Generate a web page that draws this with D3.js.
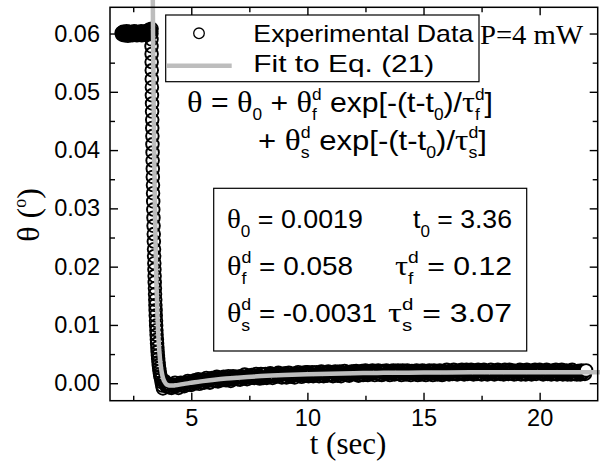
<!DOCTYPE html>
<html>
<head>
<meta charset="utf-8">
<script src="https://cdn.jsdelivr.net/npm/d3@7"></script>
<style>
  body { margin: 0; background: #fff; }
  text { white-space: pre; }
</style>
</head>
<body>
<div id="chart"></div>
<script>

// ---- Data ----

// Axis ticks
const xMajor = [5, 10, 15, 20];
const xMinor = [2.5, 7.5, 12.5, 17.5];
const yMajor = [0, 0.01, 0.02, 0.03, 0.04, 0.05, 0.06];
const yMinor = [0.005, 0.015, 0.025, 0.035, 0.045, 0.055];

// Plateau before the switch-off
const flatT = [2, 2.03, 2.06, 2.09, 2.12, 2.15, 2.18, 2.21, 2.24, 2.27, 2.3, 2.33, 2.36, 2.39, 2.42,
  2.45, 2.48, 2.51, 2.54, 2.57, 2.6, 2.63, 2.66, 2.69, 2.72, 2.75, 2.78, 2.81, 2.84, 2.87, 2.9,
  2.93, 2.96, 2.99, 3.02, 3.05, 3.08, 3.11, 3.14, 3.17, 3.2, 3.23, 3.26, 3.29];
const flatTheta = [0.0601, 0.0598, 0.0603, 0.06, 0.0597, 0.0602, 0.0599, 0.0604, 0.06, 0.0596, 0.0601,
  0.0603, 0.0598, 0.06, 0.0602, 0.0597, 0.0601, 0.0599, 0.0604, 0.0598, 0.06, 0.0603, 0.0597, 0.0601,
  0.0599, 0.0602, 0.0598, 0.06, 0.0604, 0.0597, 0.0601, 0.0603, 0.0599, 0.06, 0.0598, 0.0602, 0.0604,
  0.06, 0.0605, 0.0603, 0.0607, 0.0606, 0.0604, 0.0608];

// Fast decay
const dropT = [3.284, 3.287, 3.288, 3.292, 3.293, 3.298, 3.299, 3.304, 3.305, 3.311, 3.312, 3.318,
  3.319, 3.325, 3.327, 3.333, 3.335, 3.342, 3.344, 3.351, 3.354, 3.361, 3.364, 3.372, 3.376, 3.384,
  3.388, 3.396, 3.4, 3.408, 3.413, 3.421, 3.426, 3.435, 3.44, 3.449, 3.455, 3.464, 3.47, 3.481, 3.487,
  3.498, 3.506, 3.519, 3.527, 3.54, 3.55, 3.563, 3.574, 3.59, 3.601, 3.618, 3.633, 3.655, 3.671, 3.695,
  3.72, 3.75, 3.78, 3.81];
const dropTheta = [0.06, 0.059, 0.0578, 0.0565, 0.0551, 0.0537, 0.0522, 0.0508, 0.0494, 0.048, 0.0466,
  0.0452, 0.0438, 0.0424, 0.041, 0.0396, 0.0382, 0.0368, 0.0354, 0.034, 0.0326, 0.0312, 0.0298, 0.0284,
  0.027, 0.0256, 0.0243, 0.023, 0.0218, 0.0206, 0.0195, 0.0184, 0.0173, 0.0163, 0.0153, 0.0143, 0.0134,
  0.0125, 0.0116, 0.0107, 0.0099, 0.0091, 0.0083, 0.0075, 0.0068, 0.0061, 0.0054, 0.0048, 0.0042,
  0.0036, 0.0031, 0.0026, 0.0021, 0.0016, 0.0012, 0.0008, 0.0002, -0.0004, -0.0009, 0.0003];

// Slow recovery (one row per second)
const tailT = [3.85, 3.9, 3.95,
  4, 4.05, 4.1, 4.15, 4.2, 4.25, 4.3, 4.35, 4.4, 4.45, 4.5, 4.55, 4.6, 4.65, 4.7, 4.75, 4.8, 4.85, 4.9, 4.95,
  5, 5.05, 5.1, 5.15, 5.2, 5.25, 5.3, 5.35, 5.4, 5.45, 5.5, 5.55, 5.6, 5.65, 5.7, 5.75, 5.8, 5.85, 5.9, 5.95,
  6, 6.05, 6.1, 6.15, 6.2, 6.25, 6.3, 6.35, 6.4, 6.45, 6.5, 6.55, 6.6, 6.65, 6.7, 6.75, 6.8, 6.85, 6.9, 6.95,
  7, 7.05, 7.1, 7.15, 7.2, 7.25, 7.3, 7.35, 7.4, 7.45, 7.5, 7.55, 7.6, 7.65, 7.7, 7.75, 7.8, 7.85, 7.9, 7.95,
  8, 8.05, 8.1, 8.15, 8.2, 8.25, 8.3, 8.35, 8.4, 8.45, 8.5, 8.55, 8.6, 8.65, 8.7, 8.75, 8.8, 8.85, 8.9, 8.95,
  9, 9.05, 9.1, 9.15, 9.2, 9.25, 9.3, 9.35, 9.4, 9.45, 9.5, 9.55, 9.6, 9.65, 9.7, 9.75, 9.8, 9.85, 9.9, 9.95,
  10, 10.05, 10.1, 10.15, 10.2, 10.25, 10.3, 10.35, 10.4, 10.45, 10.5, 10.55, 10.6, 10.65, 10.7, 10.75, 10.8, 10.85, 10.9, 10.95,
  11, 11.05, 11.1, 11.15, 11.2, 11.25, 11.3, 11.35, 11.4, 11.45, 11.5, 11.55, 11.6, 11.65, 11.7, 11.75, 11.8, 11.85, 11.9, 11.95,
  12, 12.05, 12.1, 12.15, 12.2, 12.25, 12.3, 12.35, 12.4, 12.45, 12.5, 12.55, 12.6, 12.65, 12.7, 12.75, 12.8, 12.85, 12.9, 12.95,
  13, 13.05, 13.1, 13.15, 13.2, 13.25, 13.3, 13.35, 13.4, 13.45, 13.5, 13.55, 13.6, 13.65, 13.7, 13.75, 13.8, 13.85, 13.9, 13.95,
  14, 14.05, 14.1, 14.15, 14.2, 14.25, 14.3, 14.35, 14.4, 14.45, 14.5, 14.55, 14.6, 14.65, 14.7, 14.75, 14.8, 14.85, 14.9, 14.95,
  15, 15.05, 15.1, 15.15, 15.2, 15.25, 15.3, 15.35, 15.4, 15.45, 15.5, 15.55, 15.6, 15.65, 15.7, 15.75, 15.8, 15.85, 15.9, 15.95,
  16, 16.05, 16.1, 16.15, 16.2, 16.25, 16.3, 16.35, 16.4, 16.45, 16.5, 16.55, 16.6, 16.65, 16.7, 16.75, 16.8, 16.85, 16.9, 16.95,
  17, 17.05, 17.1, 17.15, 17.2, 17.25, 17.3, 17.35, 17.4, 17.45, 17.5, 17.55, 17.6, 17.65, 17.7, 17.75, 17.8, 17.85, 17.9, 17.95,
  18, 18.05, 18.1, 18.15, 18.2, 18.25, 18.3, 18.35, 18.4, 18.45, 18.5, 18.55, 18.6, 18.65, 18.7, 18.75, 18.8, 18.85, 18.9, 18.95,
  19, 19.05, 19.1, 19.15, 19.2, 19.25, 19.3, 19.35, 19.4, 19.45, 19.5, 19.55, 19.6, 19.65, 19.7, 19.75, 19.8, 19.85, 19.9, 19.95,
  20, 20.05, 20.1, 20.15, 20.2, 20.25, 20.3, 20.35, 20.4, 20.45, 20.5, 20.55, 20.6, 20.65, 20.7, 20.75, 20.8, 20.85, 20.9, 20.95,
  21, 21.05, 21.1, 21.15, 21.2, 21.25, 21.3, 21.35, 21.4, 21.45, 21.5, 21.55, 21.6, 21.65, 21.7, 21.75, 21.8, 21.85, 21.9, 21.95,
  22];
const tailTheta = [0.0004, -0.0002, -0.0006,
  -0.0001, -0.0007, -0.0003, -0.0008, -0.0002, -0.0005, 0.0001, -0.0005, -0.0003, -0.0008, -0.0001, 0.0001, -0.0004, -0.0001, -0.0005, 0.0001, -0.0002, 0.0004, -0.0002, 0.0002,
  -0.0003, 0.0003, 0.0001, 0.0005, 0, 0.0004, 0.0007, -0.0001, 0.0005, 0.0002, 0.0006, 0.0001, 0.0005, 0.0009, 0.0004, 0.0007, 0.0001, 0.0007, 0.0009, 0.0004,
  0.0009, 0.0004, 0.0011, 0.0003, 0.0008, 0.0009, 0.0005, 0.0008, 0.0011, 0.0007, 0.0005, 0.001, 0.0012, 0.0007, 0.0004, 0.001, 0.0012, 0.0007, 0.0009, 0.0011,
  0.0007, 0.0011, 0.0006, 0.0012, 0.0011, 0.0008, 0.0015, 0.001, 0.0007, 0.0013, 0.0011, 0.0009, 0.0014, 0.001, 0.0009, 0.0013, 0.0016, 0.001, 0.0013, 0.0008,
  0.0016, 0.001, 0.0009, 0.0015, 0.0016, 0.0009, 0.0011, 0.0014, 0.0017, 0.0012, 0.0009, 0.0015, 0.0013, 0.0011, 0.0016, 0.0018, 0.0013, 0.0015, 0.001, 0.0016,
  0.0012, 0.0017, 0.001, 0.0015, 0.0018, 0.0013, 0.0011, 0.0016, 0.0014, 0.001, 0.0017, 0.0014, 0.0019, 0.0013, 0.0016, 0.0011, 0.0018, 0.0016, 0.0013, 0.0019,
  0.0019, 0.0012, 0.0016, 0.0014, 0.0019, 0.0012, 0.0018, 0.0014, 0.0019, 0.0016, 0.0012, 0.0017, 0.002, 0.0014, 0.0012, 0.0018, 0.0017, 0.0013, 0.002, 0.0015,
  0.0014, 0.0019, 0.0012, 0.0018, 0.002, 0.0015, 0.0013, 0.0017, 0.002, 0.0012, 0.0018, 0.0015, 0.0021, 0.0016, 0.0014, 0.0019, 0.0013, 0.0019, 0.002, 0.0016,
  0.002, 0.0015, 0.0021, 0.0018, 0.0013, 0.0019, 0.0016, 0.0021, 0.0014, 0.0018, 0.0022, 0.0016, 0.0014, 0.002, 0.0018, 0.0016, 0.0022, 0.0019, 0.0014, 0.002,
  0.0017, 0.0022, 0.0015, 0.002, 0.0014, 0.0021, 0.0019, 0.0016, 0.0022, 0.0016, 0.0019, 0.0014, 0.0021, 0.0017, 0.0022, 0.0015, 0.002, 0.0017, 0.0022, 0.0016,
  0.002, 0.0014, 0.0022, 0.0017, 0.002, 0.0015, 0.0022, 0.0016, 0.0019, 0.0014, 0.0021, 0.0017, 0.0019, 0.0016, 0.0022, 0.0014, 0.002, 0.0018, 0.0015, 0.0022,
  0.0016, 0.0021, 0.0014, 0.0019, 0.0017, 0.0022, 0.0016, 0.002, 0.0014, 0.0022, 0.0017, 0.002, 0.0015, 0.0019, 0.0022, 0.0016, 0.0014, 0.0021, 0.0019, 0.0016,
  0.0023, 0.0018, 0.0015, 0.0021, 0.002, 0.0016, 0.0023, 0.0017, 0.002, 0.0015, 0.0022, 0.0019, 0.0017, 0.0023, 0.0018, 0.0015, 0.0021, 0.0023, 0.0016, 0.002,
  0.0017, 0.0023, 0.0018, 0.0015, 0.0022, 0.002, 0.0016, 0.0023, 0.0017, 0.0021, 0.0015, 0.002, 0.0023, 0.0018, 0.0021, 0.0015, 0.002, 0.0017, 0.0023, 0.0018,
  0.002, 0.0015, 0.0022, 0.0017, 0.0023, 0.0018, 0.0016, 0.0021, 0.0019, 0.0015, 0.0023, 0.0018, 0.0021, 0.0016, 0.0023, 0.0017, 0.002, 0.0022, 0.0015, 0.0021,
  0.0016, 0.0021, 0.0018, 0.0023, 0.0015, 0.002, 0.0022, 0.0017, 0.0015, 0.0023, 0.002, 0.0017, 0.0021, 0.0015, 0.0022, 0.0018, 0.0023, 0.0016, 0.0019, 0.0021,
  0.0023, 0.0017, 0.002, 0.0015, 0.0021, 0.0018, 0.0023, 0.0016, 0.0021, 0.0018, 0.0015, 0.0022, 0.002, 0.0017, 0.0023, 0.0015, 0.0019, 0.0021, 0.0017, 0.0023,
  0.0015, 0.002, 0.0017, 0.0022, 0.0015, 0.0018, 0.0021, 0.0015, 0.0023, 0.0017, 0.0016, 0.002, 0.0015, 0.0021, 0.0018, 0.0015, 0.0022, 0.0017, 0.0019, 0.0016,
  0.0022];

// Fitted curve, Eq. (21)
const fitT = [3.33, 3.36, 3.38, 3.4, 3.42, 3.45, 3.48, 3.5, 3.55, 3.6, 3.65, 3.7, 3.75, 3.8, 3.85, 3.9,
  4, 4.1, 4.2, 4.3, 4.5, 4.75, 5, 5.5, 6, 6.5, 7, 8, 9, 10, 11, 12, 13, 14, 15, 16, 18, 20, 22, 22.6];
const fitTheta = [0.0732, 0.0568, 0.0479, 0.0404, 0.034, 0.0263, 0.0203, 0.017, 0.0109, 0.0069, 0.00425,
  0.00254, 0.00142, 0.00069, 0.00024, -0.00006, -0.00034, -0.00041, -0.00041, -0.00036, -0.00024,
  -0.00007, 0.00008, 0.00036, 0.00059, 0.00079, 0.00095, 0.00122, 0.00141, 0.00154, 0.00164, 0.00171,
  0.00177, 0.0018, 0.00183, 0.00185, 0.00187, 0.00189, 0.0019, 0.0019];

// ---- Drawing ----

const SANS  = "'Liberation Sans', Arial, sans-serif";
const SERIF = "'Liberation Serif', 'Times New Roman', serif";

const width = 600, height = 461;
const frame = {left: 110, right: 597.7, top: 7.3, bottom: 400.7};

const svg = d3.select("#chart")
    .append("svg")
        .attr("width", width)
        .attr("height", height)
        .style("display", "block");

const x = d3.scaleLinear().domain([1.5, 22.5]).range([frame.left, frame.right]);
const y = d3.scaleLinear().domain([-0.003, 0.0645]).range([frame.bottom, frame.top]);

// Data points (open circles). The real record is far denser than what is typed here,
// so outlines are drawn unfilled to build up the same black band; the last one is filled.
const points = d3.zip(flatT, flatTheta)
    .concat(d3.zip(dropT, dropTheta), d3.zip(tailT, tailTheta));

svg.append("g")
    .selectAll("circle")
    .data(points)
    .join("circle")
        .attr("cx", d => x(d[0]))
        .attr("cy", d => y(d[1]))
        .attr("r", 6.3)
        .attr("fill", (d, i) => i === points.length - 1 ? "#fff" : "none")
        .attr("stroke", "#000")
        .attr("stroke-width", 1.9);

// Fit line
const fitLine = d3.line()
    .x(d => x(d[0]))
    .y(d => y(d[1]))
    .curve(d3.curveMonotoneX);

svg.append("path")
    .attr("d", fitLine(d3.zip(fitT, fitTheta)))
    .attr("fill", "none")
    .attr("stroke", "#bdbdbd")
    .attr("stroke-width", 4.5);

// Axes, ticks pointing inward on all four sides
function addAxis(axis, tx, ty) {
    let g = svg.append("g")
        .attr("transform", "translate(" + tx + "," + ty + ")")
        .call(axis);
    g.select(".domain").remove();
    g.selectAll("line").attr("stroke", "#000").attr("stroke-width", 1.4);
    g.attr("font-family", SANS).attr("font-size", 23.5);
    g.selectAll("text").attr("fill", "#000");
    return g;
}

addAxis(d3.axisBottom(x).tickValues(xMajor).tickSize(-8).tickPadding(9).tickFormat(d3.format("d")), 0, frame.bottom);
addAxis(d3.axisBottom(x).tickValues(xMinor).tickSize(-5).tickFormat(""), 0, frame.bottom);
addAxis(d3.axisTop(x).tickValues(xMajor).tickSize(-8).tickFormat(""), 0, frame.top);
addAxis(d3.axisTop(x).tickValues(xMinor).tickSize(-5).tickFormat(""), 0, frame.top);
addAxis(d3.axisLeft(y).tickValues(yMajor).tickSize(-8).tickPadding(10).tickFormat(d3.format(".2f")), frame.left, 0);
addAxis(d3.axisLeft(y).tickValues(yMinor).tickSize(-5).tickFormat(""), frame.left, 0);
addAxis(d3.axisRight(y).tickValues(yMajor).tickSize(-8).tickFormat(""), frame.right, 0);
addAxis(d3.axisRight(y).tickValues(yMinor).tickSize(-5).tickFormat(""), frame.right, 0);

// Frame
svg.append("rect")
    .attr("x", frame.left)
    .attr("y", frame.top)
    .attr("width", frame.right - frame.left)
    .attr("height", frame.bottom - frame.top)
    .attr("fill", "none")
    .attr("stroke", "#000")
    .attr("stroke-width", 1.5);

// Axis titles
svg.append("text")
    .attr("x", 348).attr("y", 454)
    .attr("text-anchor", "middle")
    .attr("font-family", SERIF).attr("font-size", 31)
    .text("t (sec)");

let yTitle = svg.append("text")
    .attr("transform", "translate(39,215) rotate(-90)")
    .attr("text-anchor", "middle")
    .attr("font-family", SERIF).attr("font-size", 32);
yTitle.append("tspan").text("\u03b8 (");
yTitle.append("tspan").attr("font-size", 18).attr("dy", -13).text("o");
yTitle.append("tspan").attr("dy", 13).text(")");

// Legend
svg.append("rect")
    .attr("x", 165.7).attr("y", 15)
    .attr("width", 313.3).attr("height", 66.7)
    .attr("fill", "#fff").attr("stroke", "#000").attr("stroke-width", 1.2);
svg.append("circle")
    .attr("cx", 199).attr("cy", 33.3).attr("r", 5.3)
    .attr("fill", "#fff").attr("stroke", "#000").attr("stroke-width", 1.3);
svg.append("line")
    .attr("x1", 166.7).attr("x2", 231.7).attr("y1", 65.7).attr("y2", 65.7)
    .attr("stroke", "#bdbdbd").attr("stroke-width", 4.5);
svg.append("text")
    .attr("x", 253.3).attr("y", 41.7)
    .attr("font-family", SANS).attr("font-size", 24)
    .attr("textLength", 220).attr("lengthAdjust", "spacingAndGlyphs")
    .text("Experimental Data");
svg.append("text")
    .attr("x", 253.3).attr("y", 71.5)
    .attr("font-family", SANS).attr("font-size", 24)
    .attr("textLength", 181).attr("lengthAdjust", "spacingAndGlyphs")
    .text("Fit to Eq. (21)");

svg.append("text")
    .attr("x", 480).attr("y", 44)
    .attr("font-family", SERIF).attr("font-size", 28)
    .attr("textLength", 103).attr("lengthAdjust", "spacingAndGlyphs")
    .text("P=4 mW");

// Rich text: plain pieces, greek pieces and stacked sup/sub pieces,
// stretched horizontally to a target width.
function rich(x0, y0, parts, o) {
    let g = svg.append("g");
    let cx = 0;
    parts.forEach(function(p) {
        if (p.sup !== undefined || p.sub !== undefined) {
            let w = 0;
            if (p.sup) {
                let t = g.append("text").attr("x", cx).attr("y", -o.up)
                    .attr("font-family", SANS).attr("font-size", o.small).text(p.sup);
                w = Math.max(w, t.node().getComputedTextLength());
            }
            if (p.sub) {
                let t = g.append("text").attr("x", cx).attr("y", o.down)
                    .attr("font-family", SANS).attr("font-size", o.small).text(p.sub);
                w = Math.max(w, t.node().getComputedTextLength());
            }
            cx += w;
        } else {
            let greek = p.g !== undefined;
            let t = g.append("text").attr("x", cx).attr("y", 0)
                .attr("font-family", greek ? SERIF : SANS)
                .attr("font-size", greek ? o.greek : o.size)
                .text(greek ? p.g : p.t);
            cx += t.node().getComputedTextLength();
        }
    });
    let sx = o.width ? o.width / cx : 1;
    let left = o.anchor === "end" ? x0 - cx * sx : x0;
    g.attr("transform", "translate(" + left + "," + y0 + ") scale(" + sx + ",1)");
}

const TH = "\u03b8", TAU = "\u03c4";
const eqStyle = {size: 28, greek: 30, small: 16, up: 12, down: 8};

// Equation
rich(187, 112, [{g: TH}, {t: " = "}, {g: TH}, {sub: "0"}, {t: " + "}, {g: TH}, {sup: "d", sub: "f"},
    {t: " exp[-(t-t"}, {sub: "0"}, {t: ")/"}, {g: TAU}, {sup: "d", sub: "f"}, {t: "]"}],
    Object.assign({width: 306}, eqStyle));
rich(258, 150, [{t: "+ "}, {g: TH}, {sup: "d", sub: "s"},
    {t: " exp[-(t-t"}, {sub: "0"}, {t: ")/"}, {g: TAU}, {sup: "d", sub: "s"}, {t: "]"}],
    Object.assign({width: 229}, eqStyle));

// Parameter box
svg.append("rect")
    .attr("x", 213.7).attr("y", 188.3)
    .attr("width", 313).attr("height", 162.7)
    .attr("fill", "none").attr("stroke", "#000").attr("stroke-width", 1.2);

const parStyle = {size: 25, greek: 27, small: 16, up: 12, down: 9};
rich(227, 228, [{g: TH}, {sub: "0"}, {t: " = 0.0019"}], Object.assign({width: 136}, parStyle));
rich(512, 228, [{t: "t"}, {sub: "0"}, {t: " = 3.36"}], Object.assign({width: 99, anchor: "end"}, parStyle));
rich(227, 275, [{g: TH}, {sup: "d", sub: "f"}, {t: " = 0.058"}], Object.assign({width: 126}, parStyle));
rich(512, 275, [{g: TAU}, {sup: "d", sub: "f"}, {t: " = 0.12"}], Object.assign({width: 117, anchor: "end"}, parStyle));
rich(227, 322, [{g: TH}, {sup: "d", sub: "s"}, {t: " = -0.0031"}], Object.assign({width: 150}, parStyle));
rich(512, 322, [{g: TAU}, {sup: "d", sub: "s"}, {t: " = 3.07"}], Object.assign({width: 124, anchor: "end"}, parStyle));

</script>
</body>
</html>
